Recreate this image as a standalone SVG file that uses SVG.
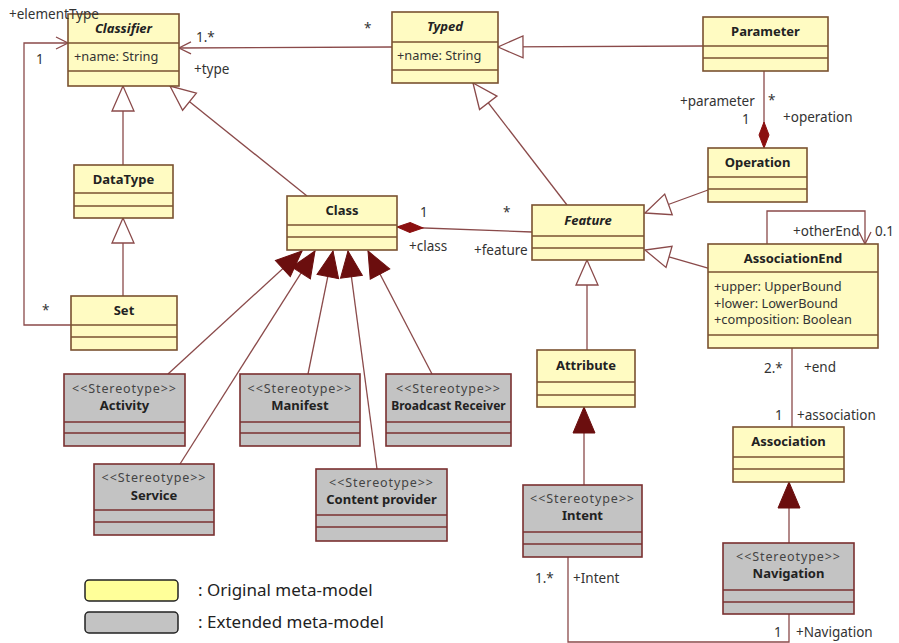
<svg xmlns="http://www.w3.org/2000/svg" width="899" height="643" viewBox="0 0 899 643">
  <style>
    .y { fill: #fffbc2; stroke: #7a5230; stroke-width: 1.6; }
    .g { fill: #c3c3c3; stroke: #7a3030; stroke-width: 1.6; }
    .ys { stroke: #7a5230; stroke-width: 1.6; }
    .gs { stroke: #7a3030; stroke-width: 1.6; }
    .c { fill: none; stroke: #8a4a4a; stroke-width: 1.3; }
    text { font-family: "Noto Sans", "Open Sans", "DejaVu Sans", sans-serif; fill: #222; }
    .nm { font-size: 13px; font-weight: bold; text-anchor: middle; }
    .it { font-style: italic; }
    .at { font-size: 12.8px; fill: #333; }
    .st { font-size: 12.5px; fill: #444; text-anchor: middle; letter-spacing: 0.9px; }
    .lb { font-size: 13.5px; fill: #333; }
    .lg { font-size: 17px; fill: #222; }
  </style>
  <defs>
    <marker id="triOpen" viewBox="-27 -13 29 26" refX="0" refY="0" markerWidth="29" markerHeight="26" markerUnits="userSpaceOnUse" orient="auto">
      <path d="M0,0 L-25,-11 L-25,11 Z" fill="#fff" stroke="#8a4a4a" stroke-width="1.3"/>
    </marker>
    <marker id="triFill" viewBox="-27 -13 29 26" refX="0" refY="0" markerWidth="29" markerHeight="26" markerUnits="userSpaceOnUse" orient="auto">
      <path d="M0,0 L-26,-11 L-26,11 Z" fill="#6b0e0e" stroke="#6b0e0e" stroke-width="1"/>
    </marker>
    <marker id="arrow" viewBox="-14 -8 16 16" refX="0" refY="0" markerWidth="16" markerHeight="16" markerUnits="userSpaceOnUse" orient="auto">
      <path d="M-12,-6 L0,0 L-12,6" fill="none" stroke="#8a4a4a" stroke-width="1.3"/>
    </marker>
    <marker id="diamond" viewBox="-1 -7 29 14" refX="0" refY="0" markerWidth="29" markerHeight="14" markerUnits="userSpaceOnUse" orient="auto">
      <path d="M0,0 L13,-5 L26,0 L13,5 Z" fill="#8b1010" stroke="#8b1010" stroke-width="1"/>
    </marker>
  </defs>

  <rect width="899" height="643" fill="#fff"/>

  <!-- connectors -->
  <g id="connectors">
    <path class="c" d="M392,47 L179,48" marker-end="url(#arrow)"/>
    <path class="c" d="M71,325 L24,325 L24,43 L68,43" marker-end="url(#arrow)"/>
    <path class="c" d="M123,165 L123,86" marker-end="url(#triOpen)"/>
    <path class="c" d="M123,296 L123,218" marker-end="url(#triOpen)"/>
    <path class="c" d="M307,196 L170,86" marker-end="url(#triOpen)"/>
    <path class="c" d="M703,46 L498,47" marker-end="url(#triOpen)"/>
    <path class="c" d="M567,205 L473,83" marker-end="url(#triOpen)"/>
    <path class="c" d="M708,190 L645,213" marker-end="url(#triOpen)"/>
    <path class="c" d="M708,268 L645,250" marker-end="url(#triOpen)"/>
    <path class="c" d="M587,350 L587,260" marker-end="url(#triOpen)"/>
    <path class="c" d="M397,227 L532,232" marker-start="url(#diamond)"/>
    <path class="c" d="M764,148 L764,71" marker-start="url(#diamond)"/>
    <path class="c" d="M767,244 L767,211 L865,211 L865,244" marker-end="url(#arrow)"/>
    <path class="c" d="M792,348 L792,427"/>
    <path class="c" d="M789,543 L789,482" marker-end="url(#triFill)"/>
    <path class="c" d="M584,485 L584,407" marker-end="url(#triFill)"/>
    <path class="c" d="M568,557 L568,642 L789,642 L789,614"/>
    <path class="c" d="M168,374 L302,251" marker-end="url(#triFill)"/>
    <path class="c" d="M180,464 L315,251" marker-end="url(#triFill)"/>
    <path class="c" d="M308,374 L333,251" marker-end="url(#triFill)"/>
    <path class="c" d="M377,469 L348,251" marker-end="url(#triFill)"/>
    <path class="c" d="M432,374 L368,251" marker-end="url(#triFill)"/>
  </g>

  <!-- original meta-model classes -->
  <g id="classifier">
    <rect class="y" x="68" y="14" width="111" height="72"/>
    <line class="ys" x1="68" y1="43" x2="179" y2="43"/>
    <line class="ys" x1="68" y1="71" x2="179" y2="71"/>
    <text class="nm it" x="123.5" y="33">Classifier</text>
    <text class="at" x="74" y="61">+name: String</text>
  </g>
  <g id="typed">
    <rect class="y" x="392" y="12" width="106" height="71"/>
    <line class="ys" x1="392" y1="42" x2="498" y2="42"/>
    <line class="ys" x1="392" y1="70" x2="498" y2="70"/>
    <text class="nm it" x="445" y="31">Typed</text>
    <text class="at" x="397" y="60">+name: String</text>
  </g>
  <g id="parameter">
    <rect class="y" x="703" y="17" width="125" height="54"/>
    <line class="ys" x1="703" y1="46" x2="828" y2="46"/>
    <line class="ys" x1="703" y1="58" x2="828" y2="58"/>
    <text class="nm" x="765.5" y="36">Parameter</text>
  </g>
  <g id="operation">
    <rect class="y" x="708" y="148" width="99" height="54"/>
    <line class="ys" x1="708" y1="177" x2="807" y2="177"/>
    <line class="ys" x1="708" y1="189" x2="807" y2="189"/>
    <text class="nm" x="757.5" y="167">Operation</text>
  </g>
  <g id="feature">
    <rect class="y" x="532" y="205" width="112" height="55"/>
    <line class="ys" x1="532" y1="236" x2="644" y2="236"/>
    <line class="ys" x1="532" y1="248" x2="644" y2="248"/>
    <text class="nm it" x="588" y="225">Feature</text>
  </g>
  <g id="associationEnd">
    <rect class="y" x="708" y="244" width="170" height="104"/>
    <line class="ys" x1="708" y1="272" x2="878" y2="272"/>
    <line class="ys" x1="708" y1="335" x2="878" y2="335"/>
    <text class="nm" x="793" y="263">AssociationEnd</text>
    <text class="at" x="714" y="291">+upper: UpperBound</text>
    <text class="at" x="714" y="307.5">+lower: LowerBound</text>
    <text class="at" x="714" y="324">+composition: Boolean</text>
  </g>
  <g id="association">
    <rect class="y" x="733" y="427" width="111" height="55"/>
    <line class="ys" x1="733" y1="457" x2="844" y2="457"/>
    <line class="ys" x1="733" y1="469" x2="844" y2="469"/>
    <text class="nm" x="788.5" y="446">Association</text>
  </g>
  <g id="attribute">
    <rect class="y" x="537" y="350" width="98" height="57"/>
    <line class="ys" x1="537" y1="382" x2="635" y2="382"/>
    <line class="ys" x1="537" y1="395" x2="635" y2="395"/>
    <text class="nm" x="586" y="370">Attribute</text>
  </g>
  <g id="class">
    <rect class="y" x="287" y="196" width="110" height="54"/>
    <line class="ys" x1="287" y1="225" x2="397" y2="225"/>
    <line class="ys" x1="287" y1="237" x2="397" y2="237"/>
    <text class="nm" x="342" y="215">Class</text>
  </g>
  <g id="dataType">
    <rect class="y" x="74" y="165" width="99" height="53"/>
    <line class="ys" x1="74" y1="193" x2="173" y2="193"/>
    <line class="ys" x1="74" y1="206" x2="173" y2="206"/>
    <text class="nm" x="123.5" y="184">DataType</text>
  </g>
  <g id="set">
    <rect class="y" x="71" y="296" width="106" height="54"/>
    <line class="ys" x1="71" y1="325" x2="177" y2="325"/>
    <line class="ys" x1="71" y1="337" x2="177" y2="337"/>
    <text class="nm" x="124" y="315">Set</text>
  </g>

  <!-- extended meta-model stereotypes -->
  <g id="activity">
    <rect class="g" x="64" y="374" width="121" height="72"/>
    <line class="gs" x1="64" y1="422" x2="185" y2="422"/>
    <line class="gs" x1="64" y1="433" x2="185" y2="433"/>
    <text class="st" x="124.5" y="393">&lt;&lt;Stereotype&gt;&gt;</text>
    <text class="nm" x="124.5" y="410">Activity</text>
  </g>
  <g id="manifest">
    <rect class="g" x="240" y="374" width="120" height="72"/>
    <line class="gs" x1="240" y1="422" x2="360" y2="422"/>
    <line class="gs" x1="240" y1="433" x2="360" y2="433"/>
    <text class="st" x="300" y="393">&lt;&lt;Stereotype&gt;&gt;</text>
    <text class="nm" x="300" y="410">Manifest</text>
  </g>
  <g id="broadcastReceiver">
    <rect class="g" x="386" y="374" width="125" height="72"/>
    <line class="gs" x1="386" y1="422" x2="511" y2="422"/>
    <line class="gs" x1="386" y1="433" x2="511" y2="433"/>
    <text class="st" x="448.5" y="393">&lt;&lt;Stereotype&gt;&gt;</text>
    <text class="nm" x="448.5" y="410" style="font-size:12px">Broadcast Receiver</text>
  </g>
  <g id="service">
    <rect class="g" x="94" y="464" width="120" height="71"/>
    <line class="gs" x1="94" y1="510" x2="214" y2="510"/>
    <line class="gs" x1="94" y1="522" x2="214" y2="522"/>
    <text class="st" x="154" y="482">&lt;&lt;Stereotype&gt;&gt;</text>
    <text class="nm" x="154" y="500">Service</text>
  </g>
  <g id="contentProvider">
    <rect class="g" x="316" y="469" width="131" height="72"/>
    <line class="gs" x1="316" y1="515" x2="447" y2="515"/>
    <line class="gs" x1="316" y1="527" x2="447" y2="527"/>
    <text class="st" x="381.5" y="487">&lt;&lt;Stereotype&gt;&gt;</text>
    <text class="nm" x="381.5" y="504">Content provider</text>
  </g>
  <g id="intent">
    <rect class="g" x="523" y="485" width="119" height="72"/>
    <line class="gs" x1="523" y1="532" x2="642" y2="532"/>
    <line class="gs" x1="523" y1="544" x2="642" y2="544"/>
    <text class="st" x="582.5" y="503">&lt;&lt;Stereotype&gt;&gt;</text>
    <text class="nm" x="582.5" y="520">Intent</text>
  </g>
  <g id="navigation">
    <rect class="g" x="723" y="543" width="131" height="71"/>
    <line class="gs" x1="723" y1="590" x2="854" y2="590"/>
    <line class="gs" x1="723" y1="602" x2="854" y2="602"/>
    <text class="st" x="788.5" y="561">&lt;&lt;Stereotype&gt;&gt;</text>
    <text class="nm" x="788.5" y="578">Navigation</text>
  </g>

  <!-- connector end labels, drawn above the boxes -->
  <g id="labels">
    <text class="lb" x="9" y="19">+elementType</text>
    <text class="lb" x="36" y="64">1</text>
    <text class="lb" x="42" y="315">*</text>
    <text class="lb" x="196" y="42">1.*</text>
    <text class="lb" x="194" y="74">+type</text>
    <text class="lb" x="364" y="33">*</text>
    <text class="lb" x="680" y="106">+parameter</text>
    <text class="lb" x="768" y="105">*</text>
    <text class="lb" x="742" y="124">1</text>
    <text class="lb" x="783" y="122">+operation</text>
    <text class="lb" x="793" y="236">+otherEnd</text>
    <text class="lb" x="875" y="236">0.1</text>
    <text class="lb" x="420" y="217">1</text>
    <text class="lb" x="503" y="217">*</text>
    <text class="lb" x="409" y="251">+class</text>
    <text class="lb" x="474" y="255">+feature</text>
    <text class="lb" x="764" y="373">2.*</text>
    <text class="lb" x="804" y="372">+end</text>
    <text class="lb" x="775" y="420">1</text>
    <text class="lb" x="797" y="420">+association</text>
    <text class="lb" x="535" y="583">1.*</text>
    <text class="lb" x="573" y="583">+Intent</text>
    <text class="lb" x="774" y="637">1</text>
    <text class="lb" x="796" y="637">+Navigation</text>
  </g>

  <!-- legend -->
  <g id="legend">
    <rect x="85" y="580" width="93" height="21" rx="4" fill="#ffff99" stroke="#222" stroke-width="1.5"/>
    <rect x="85" y="612" width="93" height="21" rx="4" fill="#c3c3c3" stroke="#222" stroke-width="1.5"/>
    <text class="lg" x="198" y="596">: Original meta-model</text>
    <text class="lg" x="198" y="628">: Extended meta-model</text>
  </g>
</svg>
